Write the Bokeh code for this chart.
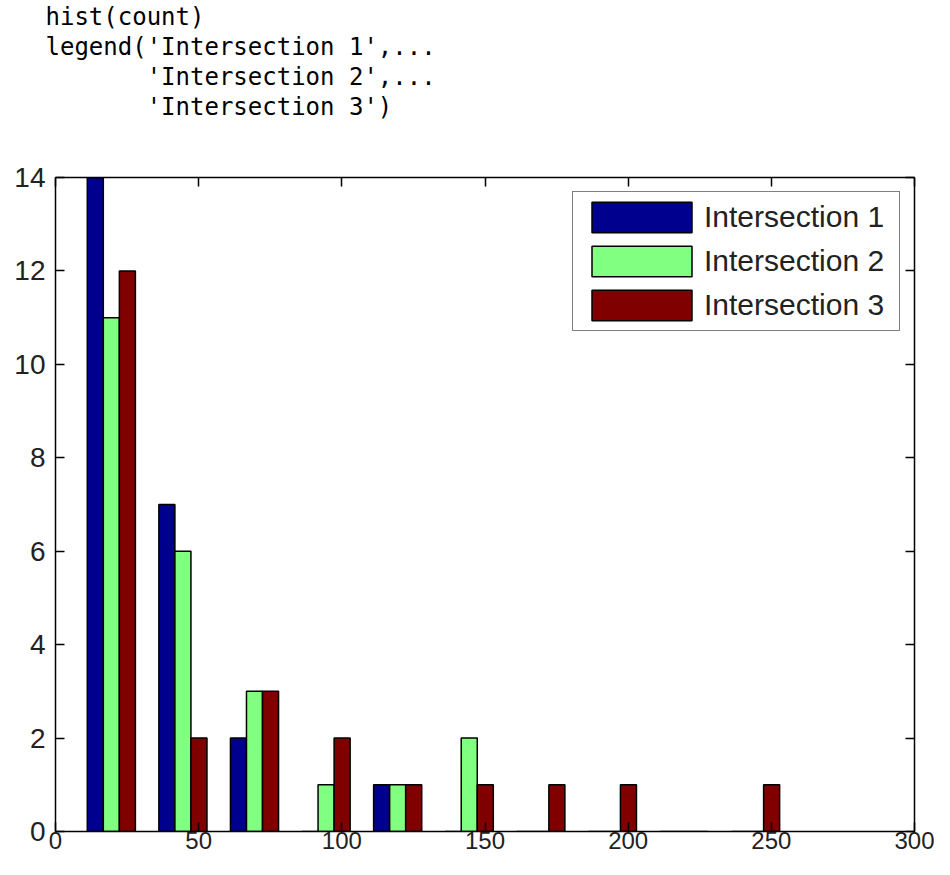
from bokeh.plotting import figure
from bokeh.models import LinearAxis, Title, Range1d, FixedTicker, ColumnDataSource, Legend, LegendItem
from bokeh.transform import dodge
from bokeh.embed import file_html
from bokeh.resources import INLINE

bin_centers = [19.5, 44.5, 69.5, 94.5, 119.5, 144.5, 169.5, 194.5, 219.5, 244.5]
inter1 = [14, 7, 2, 0, 1, 0, 0, 0, 0, 0]
inter2 = [11, 6, 3, 1, 1, 2, 0, 0, 0, 0]
inter3 = [12, 2, 3, 2, 1, 1, 1, 1, 0, 1]
series_names = ["Intersection 1", "Intersection 2", "Intersection 3"]
colors = ["#00008F", "#80FF80", "#800000"]
x_ticks = [0, 50, 100, 150, 200, 250, 300]
y_ticks = [0, 2, 4, 6, 8, 10, 12, 14]
code_lines = ["hist(count)", "legend('Intersection 1',...", "'Intersection 2',...", "'Intersection 3')"]
code_indent = [0, 0, 7, 7]

src = ColumnDataSource(dict(x=bin_centers, a=inter1, b=inter2, c=inter3))

p = figure(width=934, height=859, x_range=Range1d(0, 300), y_range=Range1d(0, 14),
           toolbar_location=None, output_backend="svg",
           min_border_left=55, min_border_right=20, min_border_bottom=28, min_border_top=0)
p.xgrid.visible = False
p.ygrid.visible = False
p.outline_line_color = "black"
p.background_fill_color = "white"

bar_w = 5.6
offsets = [-bar_w, 0, bar_w]
renderers = []
for col, off, c in zip(["a", "b", "c"], offsets, colors):
    r = p.vbar(x=dodge("x", off), top=col, bottom=0, width=bar_w, source=src,
               fill_color=c, line_color="black", line_width=1.5)
    renderers.append(r)

def style_axis(ax, ticks, labels=True):
    ax.ticker = FixedTicker(ticks=ticks)
    ax.major_tick_in = 9
    ax.major_tick_out = 0
    ax.minor_tick_in = 0
    ax.minor_tick_out = 0
    ax.axis_line_color = "black"
    ax.axis_line_width = 1.5
    ax.major_tick_line_color = "black"
    ax.major_tick_line_width = 1.5
    if labels:
        ax.major_label_text_font = "Liberation Sans"
        ax.major_label_text_font_size = "28px"
        ax.major_label_text_color = "#222222"
    else:
        ax.major_label_text_font_size = "1px"
        ax.major_label_text_color = None
        ax.major_label_standoff = 0

xa = p.xaxis[0]
style_axis(xa, x_ticks)
xa.major_label_text_font_size = "24px"
xa.major_label_standoff = 0
ya = p.yaxis[0]
style_axis(ya, y_ticks)
ya.major_label_standoff = 10

top_ax = LinearAxis()
style_axis(top_ax, x_ticks, labels=False)
p.add_layout(top_ax, "above")
right_ax = LinearAxis()
style_axis(right_ax, y_ticks, labels=False)
p.add_layout(right_ax, "right")

# blank spacer between the code lines and the plot frame
spacer = Title(text=" ", text_font_size="10px", text_color="white", standoff=44)
p.add_layout(spacer, "above")

char_w = 14.45
for i in reversed(range(len(code_lines))):
    t = Title(text=code_lines[i], align="left", offset=-10 + code_indent[i] * char_w,
              text_font="DejaVu Sans Mono", text_font_size="24px", text_font_style="normal",
              text_color="black", standoff=0)
    p.add_layout(t, "above")

legend = Legend(items=[LegendItem(label=n, renderers=[r]) for n, r in zip(series_names, renderers)],
                location="top_right", glyph_width=125, glyph_height=38, label_height=38,
                label_width=189,
                label_text_font="Liberation Sans", label_text_font_size="30px",
                label_text_color="#222222",
                label_standoff=0, spacing=6, padding=6, margin=14,
                border_line_color="black", border_line_width=1.5, background_fill_color="white",
                background_fill_alpha=1.0)
p.add_layout(legend)

open("out.html", "w").write(file_html(p, INLINE))
